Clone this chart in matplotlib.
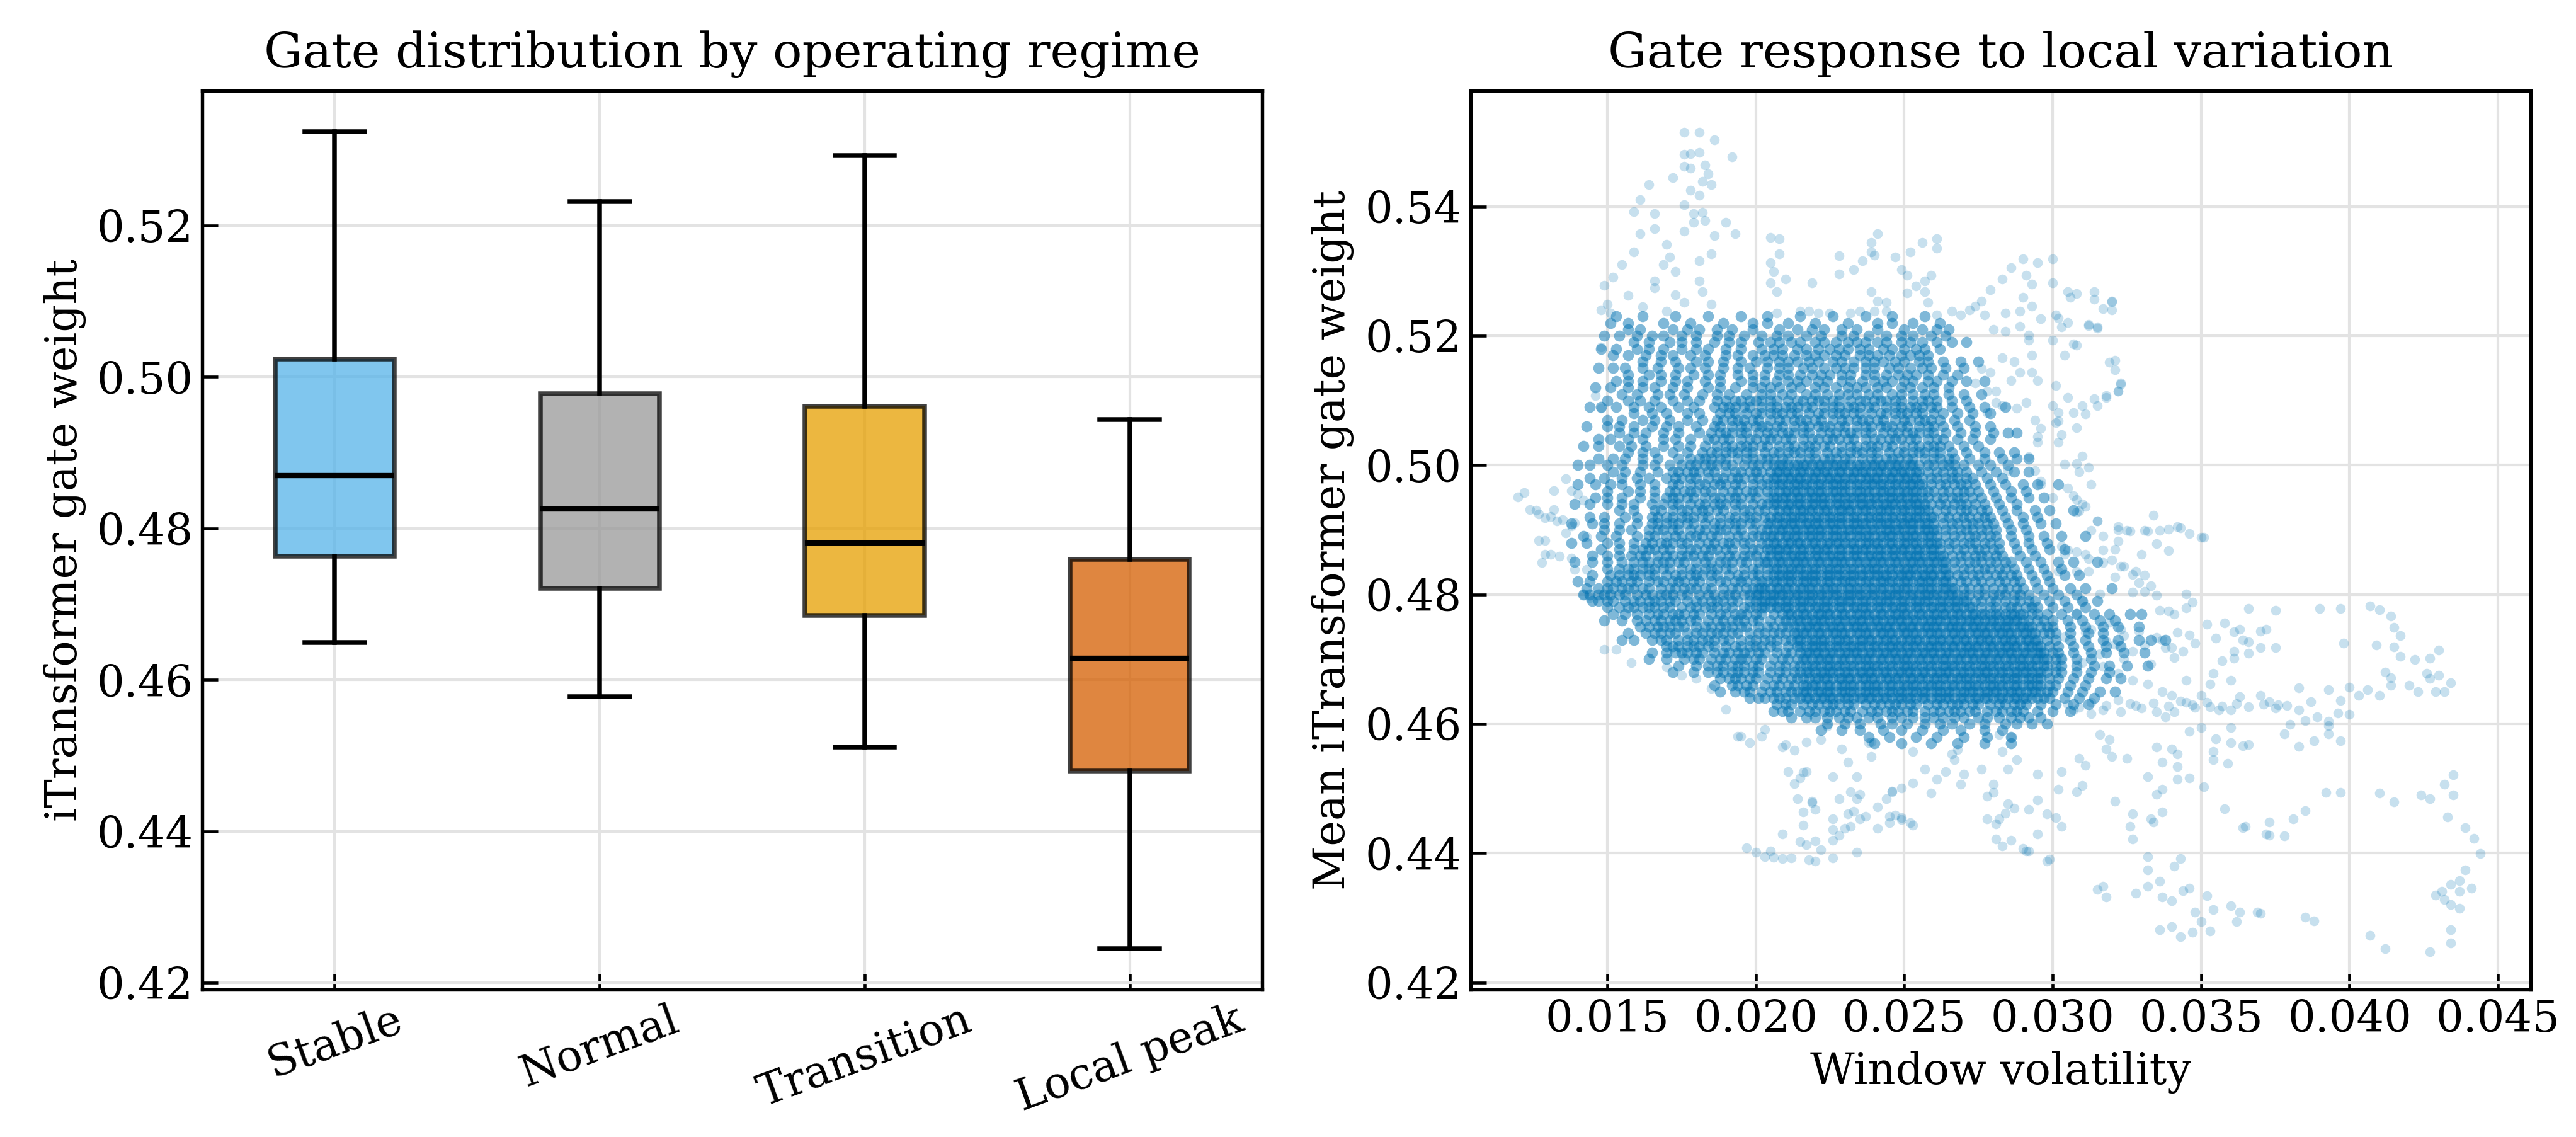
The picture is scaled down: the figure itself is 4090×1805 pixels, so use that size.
import matplotlib

matplotlib.use("Agg")
import matplotlib.pyplot as plt
import numpy as np
from matplotlib.ticker import FormatStrFormatter, MultipleLocator

# ---- left panel: gate weight per regime (box statistics) ----
regimes = ["Stable", "Normal", "Transition", "Local peak"]
regime_colors = ["#56B4E9", "#999999", "#E69F00", "#D55E00"]
gate_whislo = [0.4649, 0.4578, 0.4511, 0.4245]
gate_q1 = [0.4763, 0.4721, 0.4685, 0.4480]
gate_med = [0.4870, 0.4826, 0.4781, 0.4629]
gate_q3 = [0.5024, 0.4978, 0.4961, 0.4759]
gate_whishi = [0.5324, 0.5232, 0.5292, 0.4944]

# ---- right panel: window volatility vs mean gate weight ----
# dense body of the cloud, stored in units of 1e-4: one gate level per row,
# with the volatilities of the windows found on that row
core_gate_e4 = [5230, 5220, 5210, 5200, 5190, 5180, 5170, 5160, 5150, 5140, 5130, 5120, 5110,
                5100, 5090, 5080, 5070, 5060, 5050, 5040, 5030, 5020, 5010,
                5000, 4990, 4980, 4970, 4960, 4950, 4940, 4930, 4920, 4910, 4900, 4890, 4880,
                4870, 4860, 4850, 4840, 4830, 4820, 4810, 4800, 4790, 4780,
                4770, 4760, 4750, 4740, 4730, 4720, 4710, 4700, 4690, 4680, 4670, 4660, 4650, 4640,
                4630, 4620, 4610, 4600, 4590, 4580, 4570]
core_vol_e4 = [
    [153, 162, 173, 184, 195, 204, 215, 226, 237, 246, 257],
    [151, 157, 169, 178, 189, 199, 204, 211, 220, 231, 241, 246, 253, 262],
    [157, 161, 172, 177, 181, 187, 192, 199, 208, 214, 219, 223, 229, 234, 241, 250, 256, 261, 265],
    [149, 154, 160, 165, 169, 175, 180, 187, 191, 196, 202, 207, 211, 217, 222, 229, 233, 238, 244, 249, 253, 259, 264],
    [159, 164, 171, 175, 180, 186, 191, 195, 201, 205, 208, 212, 215, 220, 223, 227, 231, 234, 237, 241, 244, 249, 252, 256, 261, 266, 271],
    [148, 153, 160, 164, 169, 175, 180, 184, 190, 195, 202, 206, 209, 214, 217, 221, 225, 228, 231, 235, 238, 243, 246, 250, 254, 257, 262],
    [152, 157, 163, 168, 172, 178, 183, 190, 194, 199, 203, 206, 209, 213, 217, 220, 223, 227, 230, 235, 238, 241, 245, 249, 252, 255, 258],
    [162, 168, 173, 180, 184, 189, 195, 200, 204, 208, 211, 214, 218, 221, 226, 229, 233, 237, 240, 243, 247, 250, 255, 258, 263, 269, 275],
    [147, 152, 156, 162, 167, 174, 178, 183, 189, 194, 198, 204, 208, 211, 216, 219, 223, 227, 230, 233, 237, 240, 245, 248, 252, 256, 259, 264, 270],
    [157, 164, 168, 173, 179, 184, 188, 194, 199, 203, 208, 211, 215, 219, 222, 225, 229, 232, 237, 240, 244, 248, 251, 254, 258, 263, 268],
    [153, 157, 162, 168, 173, 177, 183, 188, 195, 199, 203, 207, 211, 214, 217, 221, 224, 229, 232, 236, 240, 243, 246, 250, 253, 258, 261, 266, 271, 277],
    [146, 151, 157, 162, 166, 172, 177, 184, 188, 193, 199, 202, 205, 208, 212, 215, 220, 223, 227, 231, 234, 237, 241, 244, 249, 252, 256, 260, 265],
    [155, 160, 167, 171, 176, 182, 187, 191, 197, 202, 205, 209, 212, 217, 220, 224, 228, 231, 234, 238, 241, 246, 249, 253, 257, 260, 265, 270, 276],
    [150, 157, 161, 166, 172, 177, 181, 187, 190, 193, 195, 198, 200, 202, 205, 207, 211, 214, 216, 219, 221, 223, 226, 228, 232, 235, 237, 240, 242, 244, 247, 249, 253, 256, 258, 261, 266, 271],
    [144, 148, 153, 159, 164, 168, 174, 179, 186, 189, 191, 193, 196, 198, 202, 205, 207, 210, 212, 214, 217, 219, 223, 226, 228, 231, 233, 235, 238, 240, 244, 247, 249, 252, 254, 256, 259, 261, 266, 272, 277, 284],
    [159, 165, 170, 177, 181, 188, 191, 193, 197, 200, 202, 205, 207, 209, 212, 214, 218, 221, 223, 226, 228, 230, 233, 235, 239, 242, 244, 247, 249, 251, 254, 256, 260, 263, 268, 273, 279],
    [150, 155, 162, 166, 171, 177, 182, 187, 189, 192, 194, 196, 199, 201, 205, 208, 210, 213, 215, 217, 220, 222, 226, 229, 231, 234, 236, 238, 241, 243, 247, 250, 252, 255, 257, 259, 262, 267, 272],
    [143, 150, 154, 159, 165, 170, 174, 180, 186, 188, 192, 195, 197, 200, 202, 204, 207, 209, 213, 216, 218, 221, 223, 225, 228, 230, 234, 237, 239, 242, 244, 246, 249, 251, 255, 258, 260, 263, 268, 274, 279],
    [154, 159, 163, 169, 174, 181, 185, 188, 190, 192, 195, 197, 201, 204, 206, 209, 211, 213, 216, 218, 222, 225, 227, 230, 232, 234, 237, 239, 243, 246, 248, 251, 253, 255, 258, 260, 264, 269, 274, 280, 285, 288],
    [147, 151, 157, 162, 169, 173, 178, 184, 186, 189, 191, 195, 198, 200, 203, 205, 207, 210, 212, 216, 219, 221, 224, 226, 228, 231, 233, 237, 240, 242, 245, 247, 249, 252, 254, 258, 261, 263, 268, 273, 279],
    [142, 147, 154, 158, 163, 169, 174, 178, 183, 187, 190, 192, 195, 197, 199, 202, 204, 208, 211, 213, 216, 218, 220, 223, 225, 229, 232, 234, 237, 239, 241, 244, 246, 250, 253, 255, 258, 260, 262, 265, 270, 275],
    [157, 162, 166, 172, 177, 182, 185, 187, 190, 192, 194, 197, 199, 203, 206, 208, 211, 213, 215, 218, 220, 224, 227, 229, 232, 234, 236, 239, 241, 245, 248, 250, 253, 255, 257, 260, 262, 266, 271, 277, 282, 287],
    [147, 152, 156, 162, 167, 174, 178, 181, 183, 185, 188, 190, 194, 197, 199, 202, 204, 206, 209, 211, 215, 218, 220, 223, 225, 227, 230, 232, 236, 239, 241, 244, 246, 248, 251, 253, 257, 260, 262, 265, 267, 272, 277, 283, 288, 292],
    [140, 144, 150, 155, 162, 166, 171, 175, 178, 180, 183, 185, 187, 190, 192, 196, 199, 201, 204, 206, 208, 209, 211, 213, 214, 216, 217, 219, 221, 222, 224, 226, 227, 229, 230, 232, 234, 235, 237, 239, 240, 242, 243, 245, 247, 248, 250, 252, 253, 255, 258, 260, 263, 265, 267, 270, 275, 279, 285],
    [152, 156, 161, 167, 172, 174, 177, 179, 181, 184, 186, 190, 193, 195, 198, 200, 202, 205, 207, 208, 210, 211, 213, 215, 216, 218, 220, 221, 223, 224, 226, 228, 229, 231, 233, 234, 236, 237, 239, 241, 242, 244, 246, 247, 249, 250, 252, 254, 255, 258, 261, 263, 266, 268, 271, 276, 281, 287, 292],
    [144, 149, 155, 160, 164, 170, 173, 175, 178, 180, 184, 187, 189, 192, 194, 196, 199, 201, 204, 206, 207, 209, 211, 212, 214, 215, 217, 219, 220, 222, 224, 225, 227, 228, 230, 232, 233, 235, 237, 238, 240, 241, 243, 245, 246, 248, 250, 251, 253, 254, 256, 259, 261, 264, 266, 268, 271, 273, 278, 283],
    [140, 146, 151, 155, 161, 166, 172, 174, 178, 181, 183, 186, 188, 190, 193, 195, 199, 202, 204, 206, 208, 209, 211, 213, 214, 216, 217, 219, 221, 222, 224, 226, 227, 229, 230, 232, 234, 235, 237, 239, 240, 242, 243, 245, 247, 248, 250, 252, 253, 255, 256, 259, 262, 264, 267, 269, 271, 274, 279, 284, 290, 295, 302],
    [150, 157, 161, 166, 171, 173, 176, 178, 180, 183, 185, 189, 192, 194, 197, 199, 201, 204, 206, 208, 210, 211, 213, 214, 216, 218, 219, 221, 222, 224, 226, 227, 229, 230, 232, 234, 235, 237, 238, 240, 242, 243, 245, 246, 248, 250, 251, 253, 254, 256, 258, 260, 263, 265, 268, 270, 272, 275, 280, 286, 291],
    [146, 150, 155, 161, 166, 170, 172, 174, 177, 179, 183, 186, 188, 191, 193, 195, 198, 200, 204, 206, 207, 209, 210, 212, 214, 215, 217, 219, 220, 222, 223, 225, 227, 228, 230, 232, 233, 235, 236, 238, 240, 241, 243, 245, 246, 248, 249, 251, 253, 254, 256, 258, 261, 263, 266, 268, 270, 273, 276, 281, 286, 292, 297],
    [139, 144, 150, 155, 159, 165, 169, 172, 174, 178, 181, 183, 186, 188, 190, 193, 195, 199, 202, 204, 206, 207, 209, 211, 212, 214, 215, 217, 219, 220, 222, 223, 225, 227, 228, 230, 231, 233, 235, 236, 238, 239, 241, 243, 244, 246, 247, 249, 251, 252, 254, 255, 257, 259, 262, 264, 267, 269, 271, 274, 277, 282, 288],
    [154, 159, 166, 168, 172, 175, 177, 180, 182, 184, 187, 189, 193, 196, 198, 201, 203, 206, 208, 210, 211, 213, 215, 216, 218, 219, 221, 223, 224, 226, 228, 229, 231, 232, 234, 236, 237, 239, 241, 242, 244, 245, 247, 249, 250, 252, 254, 255, 257, 258, 261, 264, 266, 269, 271, 273, 276, 278, 283, 288, 294, 299, 307],
    [144, 149, 156, 160, 165, 167, 170, 172, 175, 177, 179, 182, 184, 188, 191, 193, 196, 198, 200, 203, 205, 207, 208, 210, 212, 213, 215, 216, 218, 220, 221, 223, 225, 226, 228, 229, 231, 233, 234, 236, 238, 239, 241, 242, 244, 246, 247, 249, 251, 252, 254, 255, 257, 259, 260, 263, 265, 268, 270, 272, 275, 277, 279, 284, 290, 295],
    [138, 145, 149, 154, 160, 165, 167, 170, 172, 174, 177, 179, 183, 186, 188, 191, 193, 195, 198, 200, 204, 205, 207, 209, 210, 212, 213, 215, 217, 218, 220, 221, 223, 225, 226, 228, 229, 231, 233, 234, 236, 237, 239, 241, 242, 244, 245, 247, 249, 250, 252, 253, 255, 257, 258, 260, 263, 266, 268, 271, 273, 275, 278, 280, 285, 290, 296, 301],
    [149, 154, 158, 164, 167, 169, 172, 174, 178, 181, 183, 186, 188, 190, 193, 195, 199, 202, 204, 206, 208, 209, 211, 213, 214, 216, 218, 219, 221, 222, 224, 226, 227, 229, 231, 232, 234, 235, 237, 239, 240, 242, 244, 245, 247, 248, 250, 252, 253, 255, 257, 258, 260, 261, 264, 266, 269, 271, 273, 276, 278, 281, 286, 291],
    [142, 148, 153, 160, 164, 166, 170, 173, 175, 178, 180, 182, 185, 187, 191, 194, 196, 199, 201, 203, 205, 206, 208, 210, 211, 213, 214, 216, 218, 219, 221, 222, 224, 226, 227, 229, 230, 232, 234, 235, 237, 238, 240, 242, 243, 245, 246, 248, 250, 251, 253, 254, 256, 258, 259, 261, 264, 267, 269, 272, 274, 276, 279, 281, 286, 292, 297, 303, 311],
    [138, 143, 150, 154, 159, 163, 165, 168, 170, 172, 175, 177, 181, 184, 186, 189, 191, 193, 196, 198, 202, 204, 206, 207, 209, 211, 212, 214, 215, 217, 219, 220, 222, 224, 225, 227, 228, 230, 232, 233, 235, 237, 238, 240, 241, 243, 245, 246, 248, 250, 251, 253, 254, 256, 258, 259, 261, 262, 265, 267, 270, 272, 274, 277, 279, 282, 287, 292, 298],
    [148, 154, 159, 162, 164, 166, 169, 171, 175, 178, 180, 183, 185, 187, 190, 192, 196, 199, 201, 204, 205, 207, 208, 210, 211, 213, 215, 216, 218, 220, 221, 223, 224, 226, 228, 229, 231, 233, 234, 236, 237, 239, 241, 242, 244, 246, 247, 249, 250, 252, 254, 255, 257, 259, 260, 262, 265, 268, 270, 273, 275, 277, 280, 282, 288, 293, 299, 304],
    [145, 150, 154, 158, 161, 163, 167, 170, 172, 175, 177, 179, 182, 184, 188, 191, 193, 196, 198, 200, 203, 205, 207, 208, 210, 212, 213, 215, 216, 218, 220, 221, 223, 225, 226, 228, 229, 231, 233, 234, 236, 238, 239, 241, 242, 244, 246, 247, 249, 251, 252, 254, 255, 257, 259, 260, 262, 263, 266, 269, 271, 274, 276, 278, 281, 283, 289, 294],
    [139, 145, 150, 155, 159, 162, 164, 167, 169, 171, 174, 176, 180, 183, 185, 188, 190, 192, 195, 197, 201, 203, 204, 206, 208, 209, 211, 213, 214, 216, 217, 219, 221, 222, 224, 226, 227, 229, 230, 232, 234, 235, 237, 239, 240, 242, 243, 245, 247, 248, 250, 252, 253, 255, 256, 258, 260, 261, 263, 264, 267, 269, 272, 274, 276, 279, 281, 284, 286, 291, 296, 302, 307, 315],
    [150, 154, 157, 159, 162, 164, 166, 169, 171, 175, 178, 180, 183, 185, 187, 190, 192, 196, 199, 201, 204, 206, 207, 209, 211, 212, 214, 215, 217, 219, 220, 222, 224, 225, 227, 228, 230, 232, 233, 235, 237, 238, 240, 241, 243, 245, 246, 248, 250, 251, 253, 254, 256, 258, 259, 261, 263, 264, 267, 270, 272, 275, 277, 279, 282, 284, 287, 292, 297, 303],
    [145, 151, 154, 157, 159, 161, 164, 166, 170, 173, 175, 178, 180, 182, 185, 187, 191, 194, 196, 199, 201, 204, 206, 208, 209, 211, 212, 214, 216, 217, 219, 220, 222, 224, 225, 227, 228, 230, 232, 233, 235, 236, 238, 240, 241, 243, 244, 246, 248, 249, 251, 252, 254, 256, 257, 259, 260, 262, 264, 265, 268, 270, 273, 275, 278, 281, 283, 286, 288, 293, 298, 304, 309],
    [140, 144, 150, 153, 155, 158, 160, 164, 167, 169, 172, 174, 176, 179, 181, 185, 188, 190, 193, 195, 197, 200, 202, 204, 206, 207, 209, 211, 212, 214, 216, 217, 219, 220, 222, 224, 225, 227, 229, 230, 232, 233, 235, 237, 238, 240, 242, 243, 245, 246, 248, 250, 251, 253, 255, 256, 258, 259, 261, 263, 264, 266, 269, 271, 274, 276, 279, 282, 284, 287, 289, 294, 299],
    [143, 147, 150, 152, 155, 157, 159, 162, 164, 168, 171, 173, 176, 178, 180, 183, 185, 189, 192, 194, 197, 199, 201, 202, 203, 205, 207, 208, 210, 211, 213, 215, 216, 218, 219, 221, 223, 224, 226, 227, 229, 231, 232, 234, 235, 237, 239, 240, 242, 243, 245, 247, 248, 250, 251, 253, 255, 256, 258, 259, 261, 263, 264, 266, 267, 270, 272, 275, 277, 280, 283, 285, 288, 290, 295, 300, 306, 311, 320],
    [142, 144, 147, 149, 151, 154, 156, 160, 163, 165, 168, 170, 172, 175, 177, 181, 184, 186, 189, 191, 193, 196, 198, 200, 201, 203, 205, 206, 208, 209, 211, 213, 214, 216, 218, 219, 221, 222, 224, 226, 227, 229, 231, 232, 234, 235, 237, 239, 240, 242, 244, 245, 247, 248, 250, 252, 253, 255, 257, 258, 260, 261, 263, 265, 266, 268, 270, 272, 275, 277, 280, 282, 284, 287, 289, 292, 297, 302, 308],
    [145, 147, 150, 152, 156, 159, 161, 164, 166, 168, 171, 173, 177, 180, 182, 185, 187, 189, 192, 194, 198, 200, 202, 203, 205, 206, 208, 210, 211, 213, 215, 216, 218, 219, 221, 223, 224, 226, 228, 229, 231, 232, 234, 236, 237, 239, 241, 242, 244, 245, 247, 249, 250, 252, 254, 255, 257, 258, 260, 262, 263, 265, 267, 268, 270, 271, 274, 276, 279, 281, 284, 287, 289, 292, 294, 299, 304, 310, 315],
    [150, 154, 157, 159, 162, 164, 166, 169, 171, 175, 178, 180, 183, 185, 187, 190, 192, 196, 198, 200, 202, 203, 205, 207, 208, 210, 211, 213, 215, 216, 218, 220, 221, 223, 224, 226, 228, 229, 231, 233, 234, 236, 237, 239, 241, 242, 244, 246, 247, 249, 250, 252, 254, 255, 257, 259, 260, 262, 263, 265, 267, 268, 270, 272, 273, 276, 279, 281, 284, 286, 288, 291, 293, 295, 300, 305, 311],
    [152, 156, 160, 164, 167, 169, 172, 174, 176, 179, 181, 185, 188, 190, 193, 195, 197, 200, 202, 206, 209, 211, 212, 214, 216, 217, 219, 221, 222, 224, 225, 227, 229, 230, 232, 234, 235, 237, 238, 240, 242, 243, 245, 247, 248, 250, 251, 253, 255, 256, 258, 260, 261, 263, 264, 266, 268, 269, 271, 273, 274, 276, 277, 279, 281, 282, 284, 286, 287, 289, 290, 293, 295, 298, 303, 308, 314, 319, 326, 330],
    [149, 155, 160, 163, 166, 168, 171, 173, 175, 178, 180, 184, 187, 189, 192, 194, 196, 199, 201, 205, 208, 210, 212, 214, 215, 217, 219, 220, 222, 223, 225, 227, 228, 230, 232, 233, 235, 236, 238, 240, 241, 243, 245, 246, 248, 249, 251, 253, 254, 256, 258, 259, 261, 262, 264, 266, 267, 269, 271, 272, 274, 275, 277, 279, 280, 282, 284, 285, 287, 288, 290, 292, 295, 297, 300, 305, 310, 316, 321],
    [161, 164, 167, 169, 171, 174, 176, 180, 183, 185, 188, 190, 192, 195, 197, 201, 204, 206, 209, 211, 213, 215, 217, 218, 220, 221, 223, 225, 226, 228, 229, 231, 233, 234, 236, 237, 239, 241, 242, 244, 245, 247, 249, 250, 252, 253, 255, 257, 258, 260, 261, 263, 265, 266, 268, 269, 271, 273, 274, 276, 277, 279, 281, 282, 284, 285, 287, 289, 290, 292, 293, 296, 298, 300, 306, 311, 317, 322, 329],
    [157, 163, 166, 168, 171, 173, 177, 180, 182, 185, 187, 189, 192, 194, 198, 201, 203, 206, 208, 210, 213, 214, 216, 217, 219, 221, 222, 224, 226, 227, 229, 230, 232, 234, 235, 237, 238, 240, 242, 243, 245, 246, 248, 250, 251, 253, 254, 256, 258, 259, 261, 262, 264, 266, 267, 269, 270, 272, 274, 275, 277, 278, 280, 282, 283, 285, 286, 288, 290, 291, 293, 294, 297, 299, 301, 306, 312, 317],
    [155, 159, 165, 168, 170, 174, 177, 179, 182, 184, 186, 189, 191, 195, 198, 200, 203, 205, 207, 210, 212, 214, 215, 217, 219, 220, 222, 223, 225, 227, 228, 230, 231, 233, 235, 236, 238, 239, 241, 243, 244, 246, 247, 249, 251, 252, 254, 255, 257, 259, 260, 262, 263, 265, 267, 268, 270, 271, 273, 275, 276, 278, 279, 281, 283, 284, 286, 287, 289, 291, 292, 294, 295, 298, 301, 306, 311, 317, 322, 329, 333, 338],
    [170, 172, 174, 177, 179, 181, 184, 186, 190, 193, 195, 198, 200, 202, 205, 207, 211, 214, 215, 217, 219, 220, 222, 223, 225, 227, 228, 230, 232, 233, 235, 236, 238, 240, 241, 243, 245, 246, 248, 249, 251, 253, 254, 256, 258, 259, 261, 262, 264, 266, 267, 269, 271, 272, 274, 275, 277, 279, 280, 282, 284, 285, 287, 288, 290, 292, 293, 295, 296, 299, 302, 307, 312, 318, 323],
    [165, 170, 173, 175, 177, 180, 182, 186, 189, 191, 194, 196, 198, 201, 203, 207, 210, 212, 215, 217, 218, 220, 221, 223, 225, 226, 228, 230, 231, 233, 234, 236, 238, 239, 241, 243, 244, 246, 247, 249, 251, 252, 254, 256, 257, 259, 260, 262, 264, 265, 267, 269, 270, 272, 273, 275, 277, 278, 280, 282, 283, 285, 286, 288, 290, 291, 293, 295, 296, 297, 300, 302, 307, 313, 318, 324, 331],
    [164, 170, 176, 179, 181, 185, 188, 190, 193, 195, 197, 200, 202, 206, 209, 211, 214, 216, 217, 219, 221, 222, 224, 225, 227, 229, 230, 232, 234, 235, 237, 238, 240, 242, 243, 245, 247, 248, 250, 251, 253, 255, 256, 258, 260, 261, 263, 264, 266, 268, 269, 271, 273, 274, 276, 277, 279, 281, 282, 284, 286, 287, 289, 290, 292, 294, 295, 297, 298, 301, 303, 308, 313],
    [174, 180, 184, 187, 189, 192, 194, 196, 199, 201, 205, 208, 210, 213, 215, 217, 219, 220, 222, 224, 225, 227, 228, 230, 232, 233, 235, 237, 238, 240, 241, 243, 245, 246, 248, 250, 251, 253, 254, 256, 258, 259, 261, 263, 264, 266, 267, 269, 271, 272, 274, 276, 277, 279, 280, 282, 284, 285, 287, 289, 290, 292, 293, 295, 297, 298, 301, 303, 308, 314, 319, 325, 332],
    [172, 179, 184, 187, 189, 192, 194, 196, 199, 201, 205, 208, 210, 213, 215, 217, 218, 220, 222, 223, 225, 226, 228, 230, 231, 233, 235, 236, 238, 239, 241, 243, 244, 246, 248, 249, 251, 252, 254, 256, 257, 259, 261, 262, 264, 265, 267, 269, 270, 272, 274, 275, 277, 278, 280, 282, 283, 285, 287, 288, 290, 291, 293, 295, 296, 298, 301, 303, 308, 313, 319],
    [188, 191, 193, 195, 198, 200, 204, 207, 209, 212, 214, 216, 218, 220, 221, 223, 224, 226, 228, 229, 231, 232, 234, 236, 237, 239, 240, 242, 244, 245, 247, 248, 250, 252, 253, 255, 256, 258, 260, 261, 263, 264, 266, 268, 269, 271, 272, 274, 276, 277, 279, 280, 282, 284, 285, 287, 288, 290, 292, 293, 295, 296, 299, 302, 307, 312, 318, 323],
    [186, 192, 194, 197, 199, 203, 206, 208, 211, 213, 216, 217, 219, 220, 222, 224, 225, 227, 229, 230, 232, 233, 235, 237, 238, 240, 241, 243, 245, 246, 248, 250, 251, 253, 254, 256, 258, 259, 261, 262, 264, 266, 267, 269, 271, 272, 274, 275, 277, 279, 280, 282, 283, 285, 287, 288, 290, 292, 293, 295, 296, 299, 301, 306, 311],
    [188, 193, 196, 198, 202, 205, 207, 210, 212, 214, 216, 217, 219, 221, 222, 224, 225, 227, 229, 230, 232, 233, 235, 237, 238, 240, 241, 243, 245, 246, 248, 249, 251, 253, 254, 256, 257, 259, 261, 262, 264, 265, 267, 269, 270, 272, 273, 275, 277, 278, 280, 281, 283, 285, 286, 288, 289, 291, 293, 294, 296, 298, 300, 305, 310, 316, 321],
    [198, 201, 203, 206, 208, 210, 213, 215, 217, 218, 220, 222, 223, 225, 226, 228, 230, 231, 233, 235, 236, 238, 239, 241, 243, 244, 246, 248, 249, 251, 252, 254, 256, 257, 259, 261, 262, 264, 265, 267, 269, 270, 272, 274, 275, 277, 278, 280, 282, 283, 285, 287, 288, 290, 291, 293, 295, 297, 299, 304, 309, 314],
    [207, 210, 212, 216, 219, 221, 224, 226, 228, 231, 233, 237, 240, 242, 245, 247, 249, 252, 254, 258, 261, 263, 266, 268, 270, 273, 275, 279, 282, 284, 287, 289, 291, 296, 301, 307, 312],
    [206, 209, 211, 215, 218, 220, 223, 225, 227, 230, 232, 236, 239, 241, 244, 246, 248, 251, 253, 257, 260, 262, 265, 267, 269, 272, 274, 278, 281, 283, 286, 288, 290, 295, 300, 306],
    [212, 217, 220, 224, 228, 231, 234, 238, 241, 246, 249, 253, 257, 260, 263, 267, 270, 275, 278, 282, 286, 289, 292, 296],
    [224, 230, 235, 242, 246, 251, 257, 262, 266, 272, 277, 284, 288, 293, 298],
    [222, 229, 235, 243, 249, 256, 263, 269, 277, 283],
    [238, 245, 254, 261, 270, 278, 286],
    [240, 249, 259, 268, 277, 286],
]

# single windows around the dense body, (volatility, gate)
plume_pts = [
    (0.0176, 0.5515), (0.0181, 0.5515), (0.0186, 0.5503), (0.0192, 0.5477), (0.0176, 0.5481), (0.0178, 0.5482),
    (0.0181, 0.5484), (0.0176, 0.5462), (0.0178, 0.5459), (0.0183, 0.5464), (0.0184, 0.5450), (0.0185, 0.5434),
    (0.0182, 0.5439), (0.0178, 0.5425), (0.0181, 0.5417), (0.0172, 0.5445), (0.0164, 0.5434), (0.0161, 0.5411),
    (0.0159, 0.5392), (0.0166, 0.5389), (0.0166, 0.5366), (0.0161, 0.5358), (0.0176, 0.5403), (0.0179, 0.5389),
    (0.0182, 0.5391), (0.0179, 0.5375), (0.0183, 0.5378), (0.0176, 0.5362), (0.0190, 0.5375), (0.0193, 0.5358),
    (0.0186, 0.5355), (0.0170, 0.5341), (0.0159, 0.5330), (0.0155, 0.5310), (0.0152, 0.5291), (0.0149, 0.5278),
    (0.0171, 0.5322), (0.0169, 0.5310), (0.0181, 0.5316), (0.0185, 0.5327), (0.0173, 0.5299), (0.0166, 0.5285),
    (0.0166, 0.5274), (0.0173, 0.5263), (0.0176, 0.5252), (0.0181, 0.5285), (0.0182, 0.5268), (0.0185, 0.5249),
    (0.0150, 0.5249), (0.0151, 0.5235), (0.0148, 0.5240), (0.0157, 0.5262), (0.0162, 0.5245), (0.0170, 0.5238),
]
upper_pts = [
    (0.0205, 0.5352), (0.0208, 0.5350), (0.0208, 0.5327), (0.0205, 0.5313), (0.0206, 0.5299), (0.0210, 0.5288),
    (0.0205, 0.5282), (0.0207, 0.5268), (0.0207, 0.5235), (0.0215, 0.5238), (0.0218, 0.5238), (0.0221, 0.5235),
    (0.0225, 0.5235), (0.0219, 0.5282), (0.0228, 0.5324), (0.0228, 0.5296), (0.0233, 0.5302), (0.0236, 0.5316),
    (0.0239, 0.5330), (0.0239, 0.5344), (0.0241, 0.5358), (0.0240, 0.5325), (0.0247, 0.5322), (0.0252, 0.5330),
    (0.0249, 0.5302), (0.0251, 0.5294), (0.0251, 0.5266), (0.0254, 0.5277), (0.0257, 0.5285), (0.0257, 0.5268),
    (0.0239, 0.5268), (0.0241, 0.5254), (0.0244, 0.5252), (0.0244, 0.5238), (0.0240, 0.5238), (0.0232, 0.5235),
    (0.0235, 0.5238), (0.0259, 0.5294), (0.0256, 0.5344), (0.0261, 0.5350), (0.0261, 0.5336), (0.0258, 0.5252),
    (0.0261, 0.5232), (0.0266, 0.5238), (0.0269, 0.5232), (0.0272, 0.5240), (0.0274, 0.5246), (0.0276, 0.5254),
    (0.0279, 0.5271), (0.0277, 0.5232), (0.0280, 0.5210), (0.0283, 0.5288), (0.0286, 0.5305), (0.0290, 0.5319),
    (0.0295, 0.5313), (0.0300, 0.5319), (0.0291, 0.5294), (0.0293, 0.5280), (0.0290, 0.5260), (0.0293, 0.5246),
    (0.0300, 0.5282), (0.0305, 0.5268), (0.0306, 0.5260), (0.0308, 0.5265), (0.0314, 0.5268), (0.0314, 0.5257),
    (0.0312, 0.5218), (0.0315, 0.5212), (0.0320, 0.5254), (0.0320, 0.5240), (0.0307, 0.5187), (0.0305, 0.5221),
    (0.0301, 0.5232), (0.0289, 0.5238), (0.0284, 0.5235), (0.0284, 0.5207), (0.0292, 0.5201), (0.0296, 0.5226),
    (0.0289, 0.5215), (0.0292, 0.5193), (0.0300, 0.5193), (0.0304, 0.5170), (0.0293, 0.5170), (0.0287, 0.5160),
    (0.0319, 0.5159), (0.0321, 0.5148), (0.0323, 0.5125), (0.0322, 0.5114), (0.0318, 0.5108), (0.0314, 0.5103),
    (0.0310, 0.5092), (0.0307, 0.5081), (0.0302, 0.5069), (0.0308, 0.5058), (0.0303, 0.5047), (0.0300, 0.5092),
    (0.0286, 0.5131), (0.0281, 0.5114), (0.0283, 0.5092), (0.0278, 0.5081), (0.0295, 0.5036), (0.0292, 0.5013),
    (0.0302, 0.5227), (0.0303, 0.5214), (0.0312, 0.5216), (0.0315, 0.5214), (0.0320, 0.5253), (0.0317, 0.5242),
]
shoulder_pts = [
    (0.0308, 0.5002), (0.0309, 0.4990), (0.0308, 0.4947), (0.0311, 0.4936), (0.0296, 0.4970), (0.0300, 0.4950),
    (0.0285, 0.4992), (0.0294, 0.4992), (0.0296, 0.4975), (0.0305, 0.4964), (0.0307, 0.4953), (0.0310, 0.4940),
    (0.0308, 0.4927), (0.0315, 0.4914), (0.0313, 0.4899), (0.0317, 0.4890), (0.0322, 0.4905), (0.0325, 0.4899),
    (0.0334, 0.4923), (0.0331, 0.4899), (0.0336, 0.4899), (0.0339, 0.4901), (0.0342, 0.4905), (0.0346, 0.4894),
    (0.0351, 0.4888), (0.0339, 0.4868), (0.0335, 0.4879), (0.0330, 0.4862), (0.0322, 0.4883), (0.0321, 0.4870),
    (0.0320, 0.4853), (0.0324, 0.4844), (0.0327, 0.4831), (0.0329, 0.4818), (0.0321, 0.4827), (0.0317, 0.4849),
    (0.0312, 0.4836), (0.0311, 0.4862), (0.0308, 0.4866), (0.0303, 0.4875), (0.0304, 0.4862), (0.0308, 0.4836),
    (0.0316, 0.4801), (0.0331, 0.4805), (0.0336, 0.4775), (0.0341, 0.4770), (0.0345, 0.4779), (0.0347, 0.4788),
    (0.0345, 0.4801), (0.0304, 0.5001), (0.0310, 0.5014), (0.0312, 0.4997), (0.0313, 0.4970), (0.0302, 0.5036),
    (0.0296, 0.5057), (0.0294, 0.5070), (0.0302, 0.5081), (0.0301, 0.5066), (0.0295, 0.5044), (0.0291, 0.5097),
    (0.0288, 0.5088), (0.0281, 0.5097), (0.0278, 0.5114), (0.0274, 0.5127), (0.0276, 0.5149), (0.0279, 0.5144),
    (0.0283, 0.5166), (0.0289, 0.5144), (0.0293, 0.5144), (0.0295, 0.5131), (0.0301, 0.5123), (0.0305, 0.5105),
    (0.0311, 0.5079), (0.0315, 0.5092), (0.0318, 0.5105), (0.0322, 0.5114), (0.0323, 0.5127), (0.0321, 0.5162),
    (0.0308, 0.5186), (0.0309, 0.4929), (0.0315, 0.4914), (0.0322, 0.4900), (0.0326, 0.4898), (0.0332, 0.4898),
    (0.0343, 0.4903), (0.0350, 0.4888), (0.0323, 0.4844), (0.0328, 0.4836), (0.0331, 0.4830), (0.0333, 0.4813),
    (0.0335, 0.4799), (0.0327, 0.4804), (0.0317, 0.4869), (0.0312, 0.4855), (0.0305, 0.4869), (0.0302, 0.4836),
    (0.0310, 0.4791), (0.0308, 0.4771), (0.0313, 0.4746), (0.0319, 0.4757), (0.0323, 0.4746), (0.0329, 0.4743),
    (0.0335, 0.4734), (0.0338, 0.4718), (0.0344, 0.4712), (0.0327, 0.4712), (0.0321, 0.4723), (0.0317, 0.4689),
    (0.0322, 0.4678), (0.0327, 0.4667), (0.0332, 0.4661), (0.0337, 0.4650), (0.0340, 0.4644), (0.0345, 0.4633),
    (0.0328, 0.4628), (0.0323, 0.4619), (0.0317, 0.4622), (0.0313, 0.4616), (0.0307, 0.4622), (0.0335, 0.4619),
    (0.0338, 0.4611), (0.0341, 0.4619), (0.0346, 0.4588), (0.0350, 0.4594), (0.0355, 0.4577), (0.0360, 0.4571),
    (0.0364, 0.4566), (0.0360, 0.4594), (0.0353, 0.4661), (0.0350, 0.4644), (0.0345, 0.4667), (0.0354, 0.4678),
    (0.0360, 0.4667), (0.0370, 0.4743), (0.0305, 0.4630), (0.0309, 0.4625), (0.0313, 0.4633), (0.0318, 0.4628),
    (0.0322, 0.4637), (0.0326, 0.4631), (0.0330, 0.4624), (0.0334, 0.4632), (0.0339, 0.4627), (0.0343, 0.4635),
    (0.0347, 0.4629), (0.0352, 0.4633), (0.0357, 0.4627), (0.0362, 0.4631), (0.0366, 0.4626), (0.0371, 0.4630),
    (0.0375, 0.4624), (0.0379, 0.4628), (0.0383, 0.4622), (0.0389, 0.4611), (0.0393, 0.4604), (0.0304, 0.4735),
    (0.0311, 0.4741), (0.0318, 0.4728), (0.0324, 0.4736), (0.0331, 0.4722), (0.0337, 0.4730), (0.0342, 0.4741),
    (0.0348, 0.4725), (0.0355, 0.4733), (0.0361, 0.4742), (0.0366, 0.4727), (0.0303, 0.4702), (0.0310, 0.4695),
    (0.0316, 0.4708), (0.0324, 0.4700), (0.0333, 0.4693), (0.0341, 0.4702),
]
right_pts = [
    (0.0366, 0.4778), (0.0375, 0.4775), (0.0390, 0.4778), (0.0397, 0.4778), (0.0407, 0.4782), (0.0410, 0.4776),
    (0.0414, 0.4767), (0.0415, 0.4749), (0.0417, 0.4736), (0.0415, 0.4719), (0.0417, 0.4704), (0.0422, 0.4699),
    (0.0427, 0.4701), (0.0430, 0.4714), (0.0409, 0.4722), (0.0398, 0.4725), (0.0412, 0.4680), (0.0414, 0.4671),
    (0.0414, 0.4660), (0.0420, 0.4660), (0.0423, 0.4650), (0.0426, 0.4678), (0.0427, 0.4670), (0.0430, 0.4675),
    (0.0434, 0.4663), (0.0429, 0.4650), (0.0432, 0.4650), (0.0410, 0.4644), (0.0406, 0.4653), (0.0403, 0.4644),
    (0.0400, 0.4657), (0.0393, 0.4653), (0.0397, 0.4636), (0.0400, 0.4615), (0.0387, 0.4634), (0.0383, 0.4656),
    (0.0396, 0.4617), (0.0393, 0.4597), (0.0393, 0.4585), (0.0397, 0.4574), (0.0388, 0.4574), (0.0385, 0.4605),
    (0.0380, 0.4599), (0.0378, 0.4585), (0.0383, 0.4565), (0.0376, 0.4629), (0.0373, 0.4634), (0.0370, 0.4644),
    (0.0363, 0.4642), (0.0360, 0.4622), (0.0356, 0.4622), (0.0353, 0.4626), (0.0348, 0.4625), (0.0372, 0.4746),
    (0.0364, 0.4730), (0.0361, 0.4712), (0.0361, 0.4701), (0.0357, 0.4698), (0.0366, 0.4709), (0.0370, 0.4718),
    (0.0375, 0.4718), (0.0358, 0.4756), (0.0363, 0.4746), (0.0352, 0.4754), (0.0346, 0.4737), (0.0340, 0.4718),
    (0.0339, 0.4774), (0.0435, 0.4521), (0.0432, 0.4507), (0.0435, 0.4490), (0.0433, 0.4456), (0.0424, 0.4490),
    (0.0427, 0.4484), (0.0415, 0.4479), (0.0410, 0.4493), (0.0397, 0.4494), (0.0392, 0.4494), (0.0439, 0.4439),
    (0.0442, 0.4423), (0.0444, 0.4399), (0.0439, 0.4374), (0.0437, 0.4358), (0.0441, 0.4346), (0.0437, 0.4341),
    (0.0434, 0.4352), (0.0431, 0.4341), (0.0429, 0.4335), (0.0432, 0.4328), (0.0434, 0.4321), (0.0437, 0.4315),
    (0.0434, 0.4282), (0.0434, 0.4261), (0.0427, 0.4248), (0.0412, 0.4252), (0.0407, 0.4273), (0.0388, 0.4295),
    (0.0385, 0.4301), (0.0370, 0.4307), (0.0364, 0.4439), (0.0373, 0.4448), (0.0373, 0.4428), (0.0378, 0.4427),
    (0.0381, 0.4453), (0.0385, 0.4466), (0.0358, 0.4469),
]
lower_pts = [
    (0.0203, 0.4395), (0.0206, 0.4394), (0.0209, 0.4392), (0.0205, 0.4403), (0.0197, 0.4408), (0.0200, 0.4401),
    (0.0212, 0.4393), (0.0218, 0.4390), (0.0220, 0.4388), (0.0226, 0.4393), (0.0222, 0.4405), (0.0217, 0.4413),
    (0.0215, 0.4418), (0.0216, 0.4443), (0.0226, 0.4420), (0.0228, 0.4428), (0.0230, 0.4438), (0.0232, 0.4441),
    (0.0234, 0.4401), (0.0226, 0.4453), (0.0231, 0.4461), (0.0233, 0.4465), (0.0235, 0.4453), (0.0237, 0.4457),
    (0.0241, 0.4438), (0.0245, 0.4457), (0.0247, 0.4459), (0.0249, 0.4455), (0.0253, 0.4443), (0.0219, 0.4478),
    (0.0220, 0.4468), (0.0214, 0.4484), (0.0215, 0.4516), (0.0217, 0.4526), (0.0226, 0.4518), (0.0211, 0.4526),
    (0.0210, 0.4568), (0.0217, 0.4572), (0.0213, 0.4559), (0.0222, 0.4576), (0.0229, 0.4561), (0.0231, 0.4541),
    (0.0234, 0.4518), (0.0235, 0.4491), (0.0232, 0.4495), (0.0234, 0.4484), (0.0228, 0.4484), (0.0239, 0.4549),
    (0.0239, 0.4572), (0.0246, 0.4495), (0.0244, 0.4484), (0.0241, 0.4472), (0.0249, 0.4501), (0.0253, 0.4509),
    (0.0259, 0.4493), (0.0253, 0.4557), (0.0257, 0.4530), (0.0261, 0.4514), (0.0264, 0.4526), (0.0269, 0.4507),
    (0.0278, 0.4488), (0.0280, 0.4494), (0.0278, 0.4453), (0.0282, 0.4453), (0.0284, 0.4462), (0.0281, 0.4445),
    (0.0281, 0.4422), (0.0283, 0.4411), (0.0286, 0.4420), (0.0290, 0.4407), (0.0292, 0.4403), (0.0298, 0.4388),
    (0.0285, 0.4476), (0.0287, 0.4470), (0.0292, 0.4468), (0.0295, 0.4482), (0.0295, 0.4522), (0.0298, 0.4461),
    (0.0295, 0.4430), (0.0303, 0.4441), (0.0301, 0.4455), (0.0302, 0.4499), (0.0303, 0.4526), (0.0310, 0.4505),
    (0.0267, 0.4545), (0.0270, 0.4522), (0.0276, 0.4530), (0.0280, 0.4507), (0.0283, 0.4557), (0.0285, 0.4530),
    (0.0288, 0.4545), (0.0268, 0.4560), (0.0266, 0.4553), (0.0282, 0.4584), (0.0286, 0.4580), (0.0321, 0.4480),
    (0.0327, 0.4461), (0.0327, 0.4422), (0.0326, 0.4441), (0.0333, 0.4453), (0.0334, 0.4448), (0.0337, 0.4464),
    (0.0335, 0.4491), (0.0337, 0.4499), (0.0332, 0.4518), (0.0342, 0.4514), (0.0346, 0.4516), (0.0342, 0.4534),
    (0.0337, 0.4541), (0.0335, 0.4564), (0.0340, 0.4561), (0.0342, 0.4553), (0.0351, 0.4503), (0.0354, 0.4545),
    (0.0359, 0.4539), (0.0354, 0.4557), (0.0366, 0.4568), (0.0365, 0.4441), (0.0372, 0.4430), (0.0325, 0.4547),
    (0.0320, 0.4549), (0.0318, 0.4561), (0.0319, 0.4576), (0.0316, 0.4584), (0.0311, 0.4536), (0.0309, 0.4547),
    (0.0308, 0.4495), (0.0317, 0.4349), (0.0315, 0.4344), (0.0318, 0.4332), (0.0328, 0.4338), (0.0332, 0.4349),
    (0.0336, 0.4357), (0.0343, 0.4392), (0.0341, 0.4380), (0.0332, 0.4374), (0.0332, 0.4395), (0.0337, 0.4332),
    (0.0340, 0.4326), (0.0344, 0.4342), (0.0346, 0.4346), (0.0348, 0.4309), (0.0350, 0.4294), (0.0353, 0.4280),
    (0.0336, 0.4282), (0.0340, 0.4286), (0.0343, 0.4271), (0.0347, 0.4278), (0.0352, 0.4334), (0.0354, 0.4313),
    (0.0360, 0.4319), (0.0363, 0.4309), (0.0362, 0.4294), (0.0369, 0.4309), (0.0149, 0.4715), (0.0153, 0.4715),
    (0.0158, 0.4695), (0.0170, 0.4688), (0.0175, 0.4675), (0.0180, 0.4670), (0.0185, 0.4655), (0.0190, 0.4623),
    (0.0195, 0.4581), (0.0198, 0.4571), (0.0203, 0.4591), (0.0224, 0.4596), (0.0238, 0.4571), (0.0246, 0.4496),
    (0.0194, 0.4581), (0.0202, 0.4581), (0.0209, 0.4564), (0.0216, 0.4525), (0.0213, 0.4508), (0.0219, 0.4480),
    (0.0216, 0.4464), (0.0209, 0.4430), (0.0220, 0.4419), (0.0226, 0.4436), (0.0245, 0.4447), (0.0252, 0.4447),
    (0.0249, 0.4452), (0.0299, 0.4391), (0.0291, 0.4403),
]
tail_pts = [
    (0.0120, 0.4951), (0.0122, 0.4958), (0.0124, 0.4931), (0.0127, 0.4924), (0.0129, 0.4919), (0.0132, 0.4931),
    (0.0135, 0.4916), (0.0138, 0.4906), (0.0129, 0.4884), (0.0129, 0.4862), (0.0128, 0.4849), (0.0134, 0.4859),
    (0.0139, 0.4839), (0.0136, 0.4979), (0.0132, 0.4961), (0.0138, 0.4961), (0.0140, 0.4956), (0.0143, 0.4889),
    (0.0142, 0.4800), (0.0144, 0.4795), (0.0146, 0.5108), (0.0148, 0.5183), (0.0148, 0.5088), (0.0126, 0.4930),
    (0.0131, 0.4921), (0.0133, 0.4914), (0.0136, 0.4895), (0.0139, 0.4911), (0.0142, 0.4946), (0.0143, 0.4839),
    (0.0131, 0.4862), (0.0127, 0.4884), (0.0138, 0.4856),
]

plt.rcParams["font.family"] = ["DejaVu Serif"]
plt.rcParams["axes.linewidth"] = 1.3

fig = plt.figure(figsize=(4090 / 300, 1805 / 300), dpi=300)
ax1 = fig.add_axes([0.0785, 0.1296, 0.4115, 0.7906])
ax2 = fig.add_axes([0.5709, 0.1296, 0.4115, 0.7906])

for ax in (ax1, ax2):
    ax.grid(True, color="#e3e3e3", linewidth=1.0)
    ax.set_axisbelow(True)
    ax.tick_params(direction="in", length=6, width=1.1, labelsize=16.5)

# box plot from the summary statistics
stats = [
    dict(label=name, whislo=lo, q1=q1, med=med, q3=q3, whishi=hi)
    for name, lo, q1, med, q3, hi in zip(regimes, gate_whislo, gate_q1, gate_med, gate_q3, gate_whishi)
]
bp = ax1.bxp(
    stats, positions=range(1, len(regimes) + 1), widths=0.45, patch_artist=True, showfliers=False,
    boxprops=dict(edgecolor="black", linewidth=1.8),
    whiskerprops=dict(color="black", linewidth=1.8),
    capprops=dict(color="black", linewidth=1.8),
    medianprops=dict(color="black", linewidth=2.0),
)
for patch, color in zip(bp["boxes"], regime_colors):
    patch.set_facecolor(color)
    patch.set_alpha(0.75)
ax1.set_xlim(0.5, 4.5)
ax1.set_ylim(0.4191, 0.5378)
ax1.set_xticks(range(1, len(regimes) + 1))
ax1.set_xticklabels(regimes, rotation=20)
ax1.yaxis.set_major_locator(MultipleLocator(0.02))
ax1.yaxis.set_major_formatter(FormatStrFormatter("%.2f"))
ax1.set_ylabel("iTransformer gate weight", fontsize=16.5)
ax1.set_title("Gate distribution by operating regime", fontsize=18.5, pad=9)

# scatter: dense body first, then the individual sparse windows
core_x = np.concatenate([np.asarray(r, dtype=float) for r in core_vol_e4]) / 1e4
core_y = np.concatenate([np.full(len(r), g, dtype=float) for g, r in zip(core_gate_e4, core_vol_e4)]) / 1e4
sparse = np.array(plume_pts + upper_pts + shoulder_pts + right_pts + lower_pts + tail_pts)
ax2.scatter(core_x, core_y, s=18, color="#0072B2", alpha=0.5, linewidths=0)
ax2.scatter(sparse[:, 0], sparse[:, 1], s=14, color="#0072B2", alpha=0.22, linewidths=0)
ax2.set_xlim(0.0104, 0.0461)
ax2.set_ylim(0.4189, 0.5579)
ax2.xaxis.set_major_locator(MultipleLocator(0.005))
ax2.xaxis.set_major_formatter(FormatStrFormatter("%.3f"))
ax2.yaxis.set_major_locator(MultipleLocator(0.02))
ax2.yaxis.set_major_formatter(FormatStrFormatter("%.2f"))
ax2.set_xlabel("Window volatility", fontsize=16.5)
ax2.set_ylabel("Mean iTransformer gate weight", fontsize=16.5)
ax2.set_title("Gate response to local variation", fontsize=18.5, pad=9)

fig.savefig("out.png", dpi=300)
